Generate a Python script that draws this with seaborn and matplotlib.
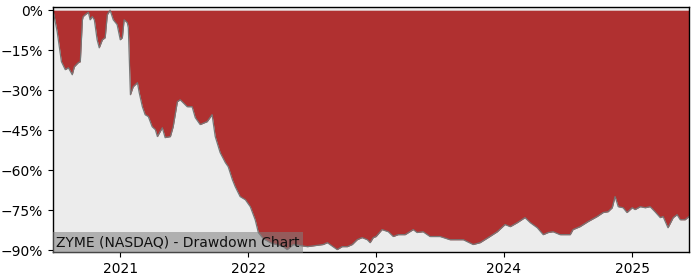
import matplotlib
matplotlib.use("Agg")
import matplotlib.pyplot as plt
import matplotlib.dates as mdates
import matplotlib.ticker as mticker
import seaborn as sns
import pandas as pd

dates = [
    "2020-06-23", "2020-06-30", "2020-07-05", "2020-07-17", "2020-07-28", "2020-08-06",
    "2020-08-17", "2020-08-23", "2020-09-03", "2020-09-09", "2020-09-15", "2020-09-17",
    "2020-09-23", "2020-10-02", "2020-10-07", "2020-10-13", "2020-10-19", "2020-10-27",
    "2020-11-02", "2020-11-11", "2020-11-19", "2020-11-25", "2020-12-03", "2020-12-12",
    "2020-12-23", "2021-01-01", "2021-01-07", "2021-01-12", "2021-01-21", "2021-01-24",
    "2021-01-30", "2021-02-07", "2021-02-19", "2021-02-24", "2021-03-05", "2021-03-13",
    "2021-03-22", "2021-04-02", "2021-04-11", "2021-04-17", "2021-05-01", "2021-05-09",
    "2021-05-24", "2021-06-01", "2021-06-13", "2021-06-21", "2021-07-11", "2021-07-25",
    "2021-08-03", "2021-08-17", "2021-09-06", "2021-09-20", "2021-09-29", "2021-10-13",
    "2021-10-28", "2021-11-05", "2021-11-17", "2021-11-25", "2021-12-09", "2021-12-24",
    "2022-01-07", "2022-01-21", "2022-01-30", "2022-02-13", "2022-03-05", "2022-04-11",
    "2022-04-22", "2022-05-10", "2022-05-30", "2022-06-19", "2022-07-11", "2022-08-03",
    "2022-08-15", "2022-09-12", "2022-09-26", "2022-10-11", "2022-10-25", "2022-11-08",
    "2022-11-22", "2022-12-07", "2022-12-15", "2022-12-24", "2023-01-01", "2023-01-18",
    "2023-02-05", "2023-02-19", "2023-03-05", "2023-03-25", "2023-04-17", "2023-04-28",
    "2023-05-15", "2023-06-04", "2023-07-03", "2023-07-31", "2023-09-07", "2023-10-05",
    "2023-10-25", "2023-11-17", "2023-12-13", "2024-01-04", "2024-01-19", "2024-02-08",
    "2024-03-01", "2024-03-16", "2024-04-05", "2024-04-22", "2024-05-06", "2024-05-20",
    "2024-06-09", "2024-07-08", "2024-07-16", "2024-08-05", "2024-08-28", "2024-09-23",
    "2024-10-10", "2024-10-24", "2024-11-05", "2024-11-13", "2024-11-22", "2024-12-06",
    "2024-12-17", "2025-01-01", "2025-01-09", "2025-01-24", "2025-02-07", "2025-02-21",
    "2025-03-07", "2025-03-22", "2025-03-30", "2025-04-13", "2025-04-28", "2025-05-09",
    "2025-05-18", "2025-06-01", "2025-06-12",
]

drawdown = [
    0.0, -4.7, -8.1, -19.3, -22.3, -21.6,
    -24.2, -21.2, -19.7, -19.3, -3.6, -2.4,
    -1.7, -0.8, -3.6, -2.4, -3.6, -11.1,
    -14.1, -11.1, -10.3, -1.7, 0.0, -3.6,
    -5.4, -11.1, -10.3, -3.6, -4.7, -6.6,
    -31.7, -28.7, -27.2, -30.9, -36.2, -39.2,
    -39.9, -43.7, -44.8, -47.4, -44.1, -47.8,
    -47.4, -43.7, -34.3, -33.6, -36.2, -36.2,
    -40.3, -42.9, -41.8, -39.2, -47.4, -53.4,
    -57.2, -58.7, -63.6, -66.2, -69.9, -71.1,
    -73.7, -78.6, -83.4, -85.7, -87.2, -88.7,
    -89.8, -87.9, -88.3, -88.7, -88.3, -87.9,
    -87.2, -89.8, -88.7, -88.7, -87.9, -86.1,
    -85.3, -86.1, -87.2, -85.3, -84.9, -82.3,
    -83.1, -84.9, -84.2, -84.2, -82.3, -83.4,
    -83.1, -84.9, -84.9, -86.1, -86.1, -87.9,
    -87.2, -85.3, -83.1, -80.4, -81.2, -79.7,
    -77.8, -79.7, -81.6, -84.2, -83.4, -83.1,
    -84.2, -84.2, -82.3, -81.2, -79.3, -77.4,
    -75.9, -75.6, -74.1, -69.9, -73.7, -74.1,
    -75.9, -74.1, -74.8, -73.7, -74.1, -73.7,
    -75.6, -77.8, -77.4, -81.6, -77.8, -76.7,
    -78.6, -78.6, -77.4,
]

title = "ZYME (NASDAQ) - Drawdown Chart"

df = pd.DataFrame({"date": pd.to_datetime(dates), "dd": drawdown})

fig = plt.figure(figsize=(7, 2.8), dpi=100)
ax = fig.add_axes([0.0757, 0.1, 0.9086, 0.875])
ax.set_facecolor("#ececec")

ax.fill_between(df["date"], df["dd"], 0, color="#b03030", linewidth=0)
sns.lineplot(data=df, x="date", y="dd", ax=ax, color="#777777", linewidth=0.9)

ax.set_xlim(df["date"].iloc[0], df["date"].iloc[-1])
ax.set_ylim(-90.7, 1.2)
ax.set_yticks([0, -15, -30, -45, -60, -75, -90])
ax.yaxis.set_major_formatter(mticker.FuncFormatter(lambda v, p: f"{int(v)}%".replace("-", "\u2212")))
ax.xaxis.set_major_locator(mdates.YearLocator())
ax.xaxis.set_major_formatter(mdates.DateFormatter("%Y"))
ax.set_xlabel("")
ax.set_ylabel("")
ax.tick_params(labelsize=10)
for s in ax.spines.values():
    s.set_linewidth(1.0)
    s.set_color("black")

ax.text(0.005, 0.012, title, transform=ax.transAxes, fontsize=10, color="#111111",
        ha="left", va="bottom",
        bbox=dict(facecolor="#808080", alpha=0.55, edgecolor="none", pad=2.5))

fig.savefig("out.png", dpi=100)
